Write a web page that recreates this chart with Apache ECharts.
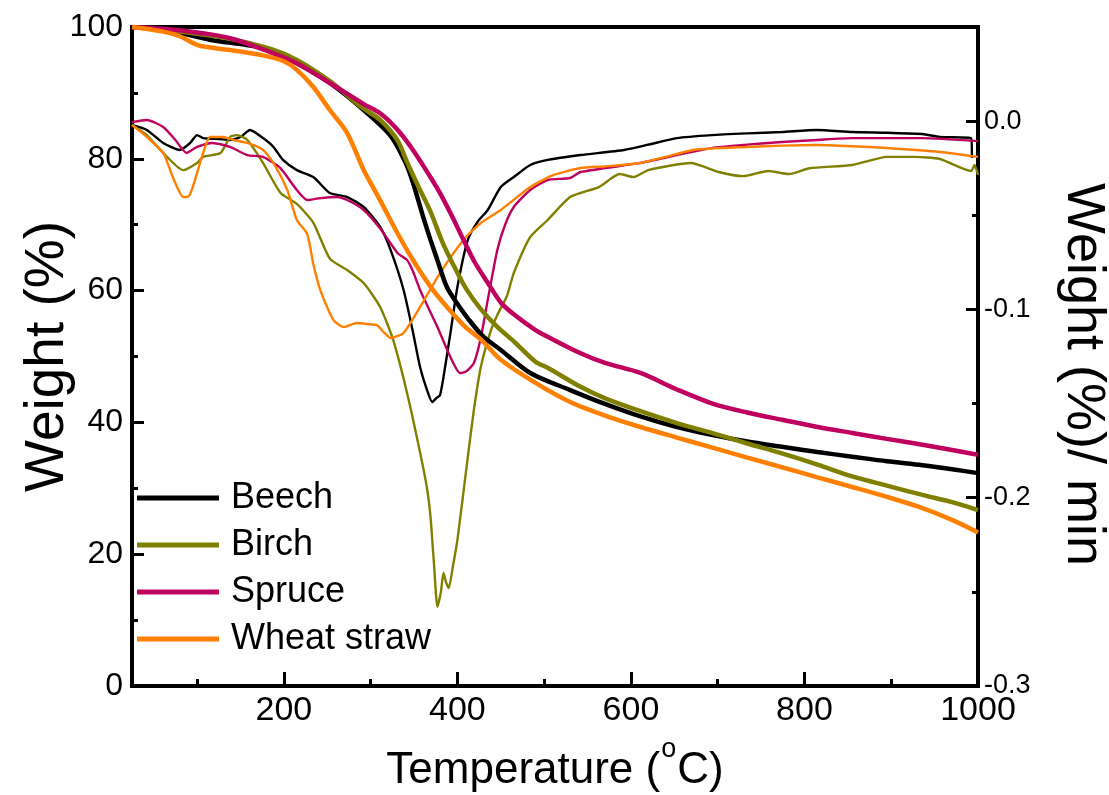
<!DOCTYPE html>
<html><head><meta charset="utf-8">
<script src="https://cdn.jsdelivr.net/npm/echarts@6/dist/echarts.min.js"></script>
<style>html,body{margin:0;padding:0;background:#fff}#c{width:1109px;height:795px}</style>
</head><body><div id="c"></div>
<script>
const names = ['Beech', 'Birch', 'Spruce', 'Wheat straw'];
const colors = ['#000000', '#808000', '#C0005F', '#FF8000'];
const xMajorTicks = [200, 400, 600, 800, 1000];
const xMinorTicks = [100, 300, 500, 700, 900];
const rightMajorTicks = [-0.3, -0.2, -0.1, 0];
const rightMinorTicks = [-0.25, -0.15, -0.05];

// TG curves: [temperature °C, weight %]
const beechTG = [[25,100],[50,99.7],[80,99.1],[118,98.0],[150,97.4],[176,96.8],[215,94.5],[253,91.5],[292,87.4],[323,83.5],[340,79.5],[349,76.3],[361,71],[369,67.7],[377,64.6],[388,60.5],[400,58],[412,55.8],[430,53],[450,51],[484,47.5],[530,44.9],[570,42.8],[611,40.9],[650,39.4],[693,38.1],[734,37.1],[774,36.3],[815,35.5],[855,34.8],[895,34.1],[936,33.5],[970,32.9],[1000,32.3]];
const birchTG = [[25,100],[80,99.3],[138,98.2],[184,96.7],[215,95.0],[253,91.8],[276,89.3],[292,87.6],[311,85.9],[331,82.8],[342,79.5],[355,75.8],[369,72],[382,67.6],[395,64],[410,60.3],[427,57.2],[446,54.5],[465,52.3],[490,49.2],[504,48.3],[542,45.4],[571,43.6],[611,41.7],[653,39.9],[701,38.1],[734,36.8],[774,35.3],[815,33.6],[855,31.8],[895,30.4],[936,29.0],[970,27.9],[1000,26.7]];
const spruceTG = [[25,100],[80,99.5],[138,98.3],[184,96.2],[215,94.5],[253,91.5],[292,88.3],[311,86.9],[331,84.4],[349,81.3],[369,77.2],[380,74.8],[393,71.5],[407,67.7],[420,64.3],[435,61.2],[450,58.2],[465,56.4],[490,54.0],[504,53.0],[542,50.5],[571,49.0],[611,47.5],[653,45.0],[693,42.9],[734,41.5],[774,40.4],[815,39.3],[855,38.4],[895,37.5],[936,36.6],[1000,35.1]];
const wheatTG = [[25,100],[61,99.3],[80,98.6],[100,97.3],[120,96.8],[138,96.5],[176,95.7],[200,94.8],[215,93.5],[234,90.9],[253,87.4],[273,83.9],[292,78.3],[311,73.7],[331,68.7],[349,64.6],[369,60.6],[388,57.5],[409,54.5],[427,52.6],[450,49.5],[490,46.0],[530,43.1],[571,41.0],[611,39.3],[653,37.7],[693,36.2],[733,34.7],[774,33.2],[814,31.7],[855,30.2],[895,28.7],[936,27.0],[970,25.2],[1000,23.3]];

// DTG curves: [temperature °C, weight %/min]
const beechDTG = [[25,-0.002],[42,-0.0047],[61,-0.0116],[80,-0.0153],[92,-0.0116],[100,-0.0074],[107,-0.009],[125,-0.0095],[138,-0.010],[150,-0.0084],[161,-0.0047],[176,-0.009],[188,-0.0137],[199,-0.0206],[215,-0.026],[234,-0.0297],[253,-0.0382],[273,-0.0403],[292,-0.0456],[311,-0.0562],[323,-0.0684],[338,-0.0897],[349,-0.1125],[357,-0.1306],[365,-0.1428],[371,-0.1492],[376,-0.147],[380,-0.1455],[384,-0.1359],[392,-0.1125],[400,-0.0881],[412,-0.0631],[424,-0.053],[435,-0.0472],[450,-0.035],[465,-0.0297],[484,-0.0233],[504,-0.0206],[542,-0.018],[592,-0.0153],[620,-0.0125],[653,-0.009],[693,-0.0074],[734,-0.0065],[774,-0.0058],[814,-0.0047],[855,-0.0058],[895,-0.0062],[936,-0.0068],[956,-0.0084],[992,-0.009],[993,-0.0196]];
const birchDTG = [[25,-0.002],[42,-0.0074],[61,-0.0169],[84,-0.026],[100,-0.0222],[107,-0.019],[127,-0.0169],[138,-0.0084],[146,-0.0074],[158,-0.010],[176,-0.0222],[196,-0.038],[215,-0.044],[234,-0.054],[253,-0.073],[273,-0.0791],[292,-0.086],[311,-0.0987],[326,-0.1162],[342,-0.1444],[357,-0.176],[365,-0.195],[369,-0.210],[373,-0.235],[377,-0.258],[381,-0.250],[384,-0.240],[387,-0.245],[390,-0.248],[395,-0.236],[400,-0.2225],[412,-0.1784],[419,-0.1534],[427,-0.1306],[438,-0.112],[446,-0.103],[457,-0.093],[465,-0.0807],[484,-0.0615],[504,-0.0525],[530,-0.0403],[563,-0.035],[587,-0.0281],[603,-0.0297],[620,-0.026],[669,-0.0222],[701,-0.027],[729,-0.0292],[758,-0.0265],[782,-0.0281],[806,-0.025],[855,-0.0233],[895,-0.019],[927,-0.019],[956,-0.0201],[992,-0.0265],[996,-0.0233],[1000,-0.0286]];
const spruceDTG = [[25,-0.0005],[42,0.0006],[61,-0.0031],[75,-0.010],[88,-0.0169],[100,-0.0137],[118,-0.0116],[138,-0.0137],[158,-0.018],[176,-0.019],[196,-0.025],[215,-0.0366],[227,-0.0419],[240,-0.041],[261,-0.0403],[273,-0.0419],[292,-0.0472],[311,-0.057],[331,-0.07],[342,-0.0738],[349,-0.08],[357,-0.0897],[377,-0.1093],[392,-0.1253],[403,-0.1338],[410,-0.133],[419,-0.1285],[427,-0.115],[435,-0.095],[446,-0.0684],[455,-0.055],[465,-0.0456],[484,-0.0366],[504,-0.0313],[530,-0.0302],[542,-0.027],[611,-0.0222],[653,-0.018],[693,-0.0143],[734,-0.0125],[774,-0.0111],[814,-0.010],[855,-0.009],[895,-0.009],[936,-0.009],[1000,-0.0106]];
const wheatDTG = [[25,-0.002],[42,-0.0084],[61,-0.0169],[72,-0.0297],[84,-0.0403],[90,-0.040],[95,-0.035],[107,-0.0169],[115,-0.0084],[130,-0.0084],[142,-0.010],[158,-0.0116],[176,-0.0153],[188,-0.0222],[204,-0.0366],[215,-0.0525],[227,-0.060],[234,-0.076],[242,-0.0897],[257,-0.1056],[269,-0.1093],[284,-0.1072],[300,-0.108],[307,-0.1083],[315,-0.112],[323,-0.1152],[338,-0.1125],[357,-0.0987],[380,-0.0807],[407,-0.0631],[427,-0.0541],[450,-0.0472],[484,-0.035],[511,-0.0286],[542,-0.0249],[571,-0.024],[611,-0.0222],[640,-0.019],[672,-0.0153],[733,-0.0137],[774,-0.013],[814,-0.0127],[855,-0.0133],[895,-0.0143],[956,-0.0164],[1000,-0.019]];

const tgList = [beechTG, birchTG, spruceTG, wheatTG];
const dtgList = [beechDTG, birchDTG, spruceDTG, wheatDTG];

const FONT = 'Liberation Sans, Arial, sans-serif';
const tickStyle = { color: '#000', width: 3 };

const series = [];
names.forEach((n, i) => {
  series.push({
    name: n, type: 'line', xAxisIndex: 0, yAxisIndex: 0, data: tgList[i],
    showSymbol: false, symbol: 'none', smooth: 0.3,
    lineStyle: { width: 4.5, color: colors[i] }, itemStyle: { color: colors[i] }, z: 3
  });
});
names.forEach((n, i) => {
  series.push({
    name: n, type: 'line', xAxisIndex: 0, yAxisIndex: 1, data: dtgList[i],
    showSymbol: false, symbol: 'none', smooth: 0.2,
    lineStyle: { width: 2.4, color: colors[i] }, itemStyle: { color: colors[i] }, z: 2
  });
});

const chart = echarts.init(document.getElementById('c'), null, { renderer: 'canvas' });
chart.setOption({
  animation: false,
  backgroundColor: '#fff',
  textStyle: { fontFamily: FONT },
  grid: { left: 132, right: 131, top: 27, bottom: 109, show: true, borderColor: '#000', borderWidth: 4,
          containLabel: false, outerBoundsMode: 'none' },
  legend: {
    data: names, orient: 'vertical', left: 132, top: 475, padding: 5,
    icon: 'rect', itemWidth: 82, itemHeight: 5, itemGap: 11,
    textStyle: { fontSize: 36, lineHeight: 36, color: '#000', fontFamily: FONT, padding: [0, 0, 0, 7] }
  },
  xAxis: [
    {
      type: 'value', min: 25, max: 1000, position: 'bottom',
      axisLine: { show: false, onZero: false },
      axisTick: { show: true, inside: true, length: 14, lineStyle: tickStyle, customValues: xMajorTicks },
      axisLabel: { customValues: xMajorTicks, fontSize: 34, color: '#000', margin: 8, fontFamily: FONT,
        formatter: v => String(Math.round(v)) },
      splitLine: { show: false },
      name: 'Temperature ({s|o}C)', nameLocation: 'middle', nameGap: 50, nameMoveOverlap: false,
      nameTextStyle: { fontSize: 44, lineHeight: 70, color: '#000', fontFamily: FONT,
        rich: { s: { fontSize: 27, lineHeight: 6, verticalAlign: 'top', color: '#000', fontFamily: FONT, padding: [0, 1, 0, 1] } } }
    },
    {
      type: 'value', min: 25, max: 1000, position: 'bottom',
      axisLine: { show: false, onZero: false },
      axisTick: { show: true, inside: true, length: 7, lineStyle: tickStyle, customValues: xMinorTicks },
      axisLabel: { show: false }, splitLine: { show: false }
    }
  ],
  yAxis: [
    {
      type: 'value', min: 0, max: 100, interval: 20, position: 'left',
      axisLine: { show: false, onZero: false },
      axisTick: { show: true, inside: true, length: 12, lineStyle: tickStyle },
      minorTick: { show: true, splitNumber: 2, length: 6, lineStyle: tickStyle },
      axisLabel: { fontSize: 32, color: '#000', margin: 9, fontFamily: FONT },
      splitLine: { show: false }, minorSplitLine: { show: false },
      name: 'Weight (%)', nameLocation: 'middle', nameGap: 57, nameRotate: 90, nameMoveOverlap: false,
      nameTextStyle: { fontSize: 55, color: '#000', fontFamily: FONT }
    },
    {
      type: 'value', min: -0.3, max: 0.05, position: 'right',
      axisLine: { show: false, onZero: false },
      axisTick: { show: true, inside: true, length: 12, lineStyle: tickStyle, customValues: rightMajorTicks },
      axisLabel: { customValues: rightMajorTicks, fontSize: 27, color: '#000', margin: 6, fontFamily: FONT,
        formatter: v => Number(v).toFixed(1) },
      splitLine: { show: false },
      name: 'Weight (%)/ min', nameLocation: 'middle', nameGap: 78, nameRotate: -90, nameMoveOverlap: false,
      nameTextStyle: { fontSize: 54, color: '#000', fontFamily: FONT, padding: [0, 0, 0, 36] }
    },
    {
      type: 'value', min: -0.3, max: 0.05, position: 'right',
      axisLine: { show: false, onZero: false },
      axisTick: { show: true, inside: true, length: 6, lineStyle: tickStyle, customValues: rightMinorTicks },
      axisLabel: { show: false }, splitLine: { show: false }
    }
  ],
  series: series
});
</script></body></html>
